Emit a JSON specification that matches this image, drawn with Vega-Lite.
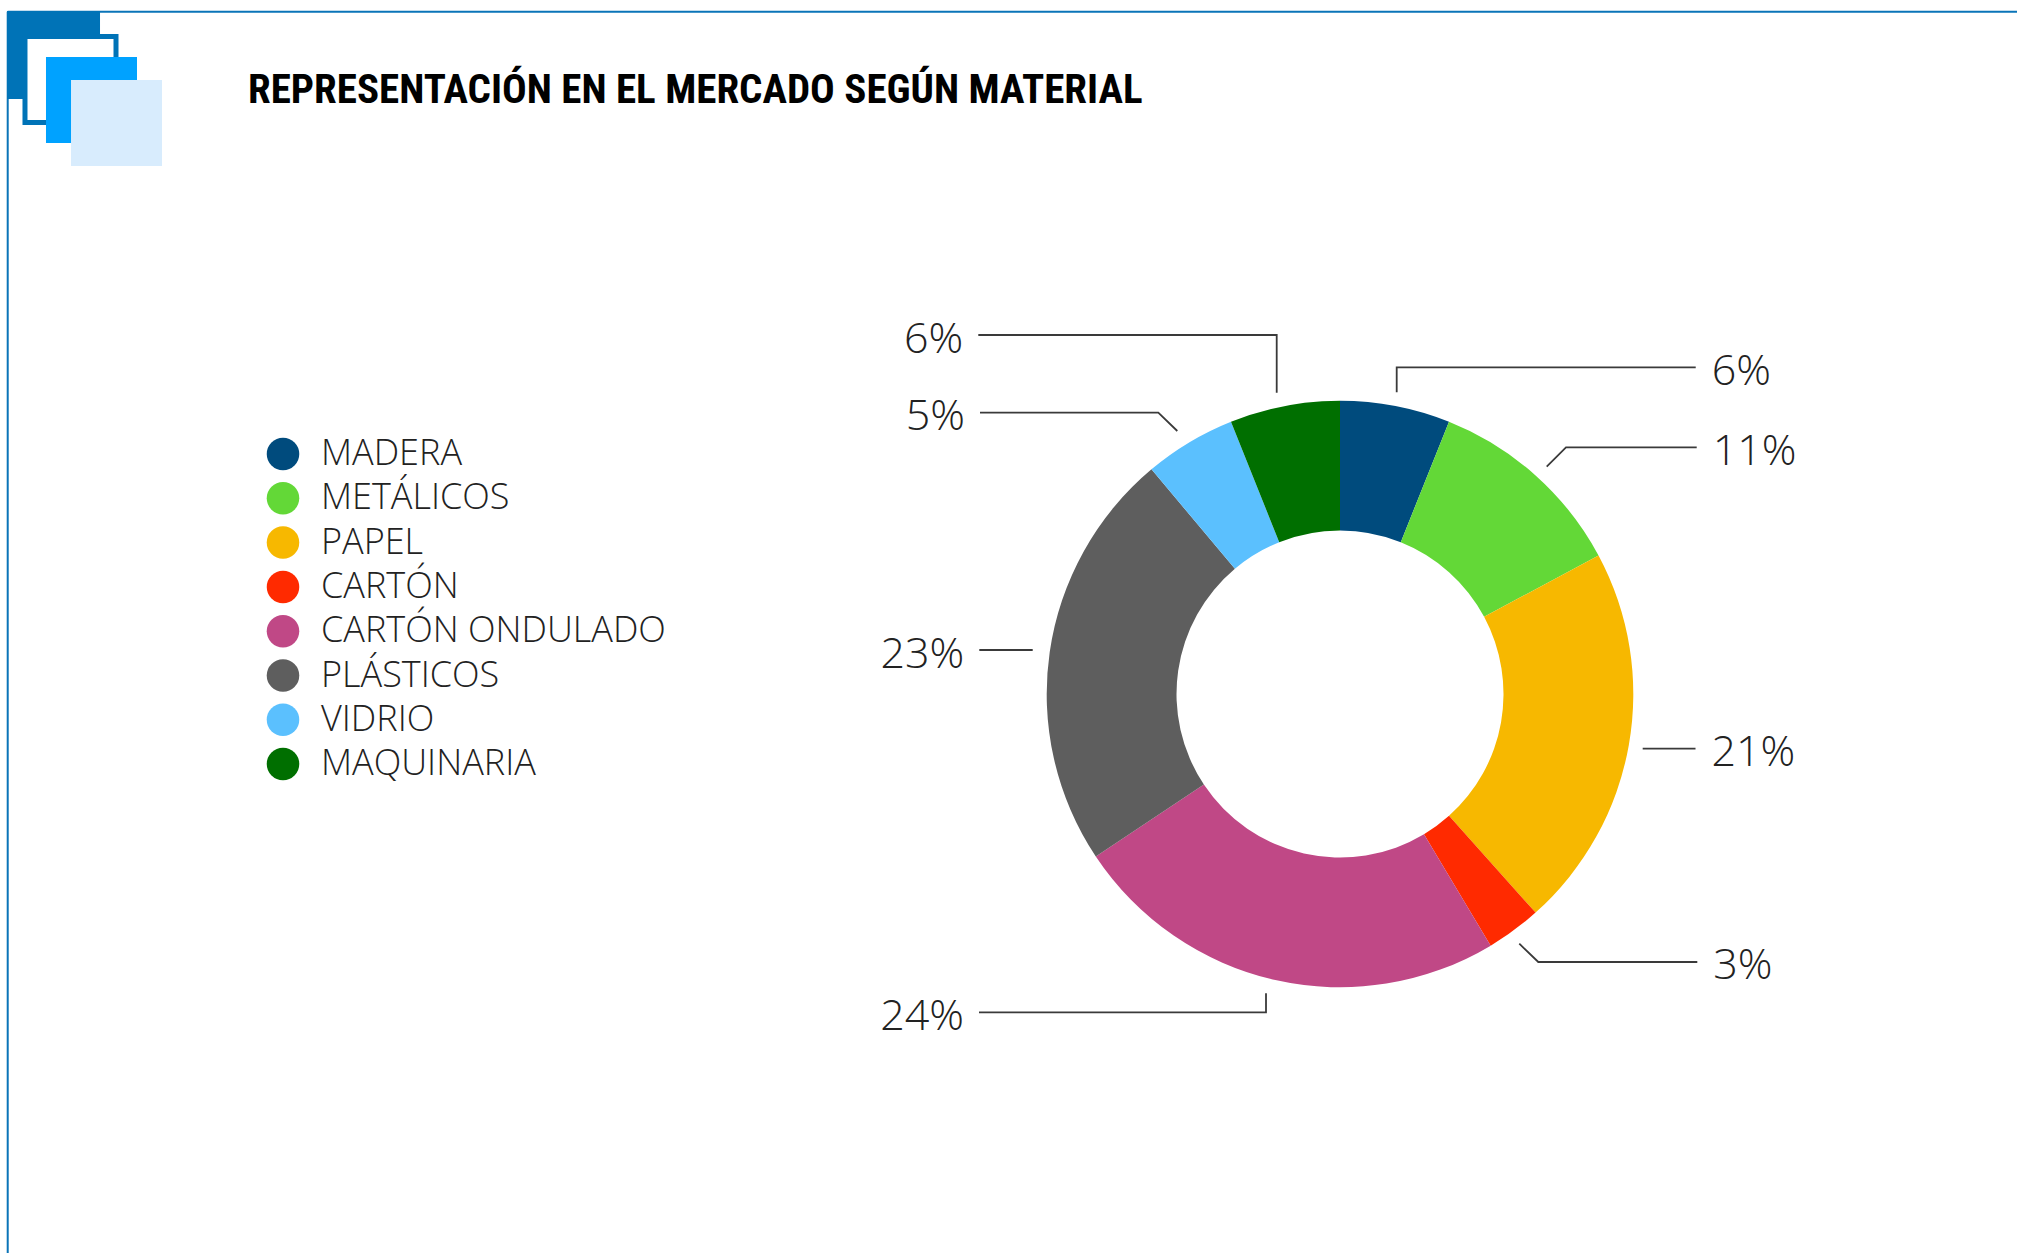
{
  "$schema": "https://vega.github.io/schema/vega-lite/v6.json",
  "width": 2017,
  "height": 1253,
  "autosize": {"type": "none"},
  "padding": 0,
  "background": "#ffffff",
  "title": {
    "text": "REPRESENTACIÓN EN EL MERCADO SEGÚN MATERIAL",
    "orient": "top",
    "anchor": "start",
    "frame": "group",
    "offset": 0,
    "dx": 248,
    "dy": 144,
    "baseline": "alphabetic",
    "font": "Roboto Condensed, Liberation Sans Narrow, DejaVu Sans Condensed, sans-serif",
    "fontWeight": "bold",
    "fontSize": 41,
    "color": "#000000"
  },
  "config": {
    "view": {"stroke": null},
    "legend": {
      "orient": "none",
      "legendX": 265,
      "legendY": 436,
      "padding": 0,
      "symbolType": "circle",
      "symbolSize": 1058,
      "symbolStrokeWidth": 0,
      "labelFont": "Open Sans",
      "labelFontWeight": 300,
      "labelFontSize": 36,
      "labelColor": "#222222",
      "labelOffset": 20,
      "labelLimit": 0,
      "rowPadding": 8.3
    }
  },
  "datasets": {
    "shares": [
      {"idx": 1, "material": "MADERA", "pct": 6},
      {"idx": 2, "material": "METÁLICOS", "pct": 11},
      {"idx": 3, "material": "PAPEL", "pct": 21},
      {"idx": 4, "material": "CARTÓN", "pct": 3},
      {"idx": 5, "material": "CARTÓN ONDULADO", "pct": 24},
      {"idx": 6, "material": "PLÁSTICOS", "pct": 23},
      {"idx": 7, "material": "VIDRIO", "pct": 5},
      {"idx": 8, "material": "MAQUINARIA", "pct": 6}
    ],
    "leaders": [
      {"material": "MAQUINARIA", "label": "6%", "side": "left", "seq": 0, "x": -123.32, "y": 122.40},
      {"material": "MAQUINARIA", "label": "6%", "side": "left", "seq": 1, "x": -21.58, "y": 122.40},
      {"material": "MAQUINARIA", "label": "6%", "side": "left", "seq": 2, "x": -21.58, "y": 102.73},
      {"material": "VIDRIO", "label": "5%", "side": "left", "seq": 0, "x": -122.74, "y": 95.91},
      {"material": "VIDRIO", "label": "5%", "side": "left", "seq": 1, "x": -61.95, "y": 95.91},
      {"material": "VIDRIO", "label": "5%", "side": "left", "seq": 2, "x": -55.47, "y": 89.67},
      {"material": "PLÁSTICOS", "label": "23%", "side": "left", "seq": 0, "x": -122.98, "y": 15.00},
      {"material": "PLÁSTICOS", "label": "23%", "side": "left", "seq": 1, "x": -104.77, "y": 15.00},
      {"material": "CARTÓN ONDULADO", "label": "24%", "side": "left", "seq": 0, "x": -123.08, "y": -108.52},
      {"material": "CARTÓN ONDULADO", "label": "24%", "side": "left", "seq": 1, "x": -25.23, "y": -108.52},
      {"material": "CARTÓN ONDULADO", "label": "24%", "side": "left", "seq": 2, "x": -25.23, "y": -102.05},
      {"material": "MADERA", "label": "6%", "side": "right", "seq": 0, "x": 121.28, "y": 111.39},
      {"material": "MADERA", "label": "6%", "side": "right", "seq": 1, "x": 19.33, "y": 111.39},
      {"material": "MADERA", "label": "6%", "side": "right", "seq": 2, "x": 19.33, "y": 102.86},
      {"material": "METÁLICOS", "label": "11%", "side": "right", "seq": 0, "x": 121.62, "y": 84.11},
      {"material": "METÁLICOS", "label": "11%", "side": "right", "seq": 1, "x": 77.05, "y": 84.11},
      {"material": "METÁLICOS", "label": "11%", "side": "right", "seq": 2, "x": 70.47, "y": 77.50},
      {"material": "PAPEL", "label": "21%", "side": "right", "seq": 0, "x": 121.21, "y": -18.65},
      {"material": "PAPEL", "label": "21%", "side": "right", "seq": 1, "x": 103.20, "y": -18.65},
      {"material": "CARTÓN", "label": "3%", "side": "right", "seq": 0, "x": 121.82, "y": -91.37},
      {"material": "CARTÓN", "label": "3%", "side": "right", "seq": 1, "x": 67.61, "y": -91.37},
      {"material": "CARTÓN", "label": "3%", "side": "right", "seq": 2, "x": 61.13, "y": -85.13}
    ],
    "decor": [
      {"part": "dark", "x": -454.48, "x2": -422.77, "y": 232.87, "y2": 202.86},
      {"part": "outline", "x": -448.35, "x2": -417.32, "y": 224.17, "y2": 194.85},
      {"part": "bright", "x": -441.19, "x2": -410.16, "y": 217.18, "y2": 187.86},
      {"part": "light", "x": -432.66, "x2": -401.64, "y": 209.34, "y2": 180.02}
    ],
    "frame": [
      {"x": -454.24, "x2": 231, "y": 232.63, "y2": 232.63},
      {"x": -454.24, "x2": -454.24, "y": 232.63, "y2": -191}
    ]
  },
  "layer": [
    {
      "data": {"name": "frame"},
      "mark": {"type": "rule", "color": "#0a74b8", "strokeWidth": 2},
      "encoding": {
        "x": {"field": "x", "type": "quantitative", "scale": {"domain": [-456.87, 230.82], "nice": false, "zero": false}, "axis": null},
        "x2": {"field": "x2"},
        "y": {"field": "y", "type": "quantitative", "scale": {"domain": [-190.59, 236.62], "nice": false, "zero": false}, "axis": null},
        "y2": {"field": "y2"}
      }
    },
    {
      "data": {"name": "decor"},
      "transform": [{"filter": "datum.part === 'dark'"}],
      "mark": {"type": "rect", "fill": "#0073b7"},
      "encoding": {
        "x": {"field": "x", "type": "quantitative"},
        "x2": {"field": "x2"},
        "y": {"field": "y", "type": "quantitative"},
        "y2": {"field": "y2"}
      }
    },
    {
      "data": {"name": "decor"},
      "transform": [{"filter": "datum.part === 'outline'"}],
      "mark": {"type": "rect", "fill": "#ffffff", "stroke": "#0073b7", "strokeWidth": 5},
      "encoding": {
        "x": {"field": "x", "type": "quantitative"},
        "x2": {"field": "x2"},
        "y": {"field": "y", "type": "quantitative"},
        "y2": {"field": "y2"}
      }
    },
    {
      "data": {"name": "decor"},
      "transform": [{"filter": "datum.part === 'bright'"}],
      "mark": {"type": "rect", "fill": "#00a2ff"},
      "encoding": {
        "x": {"field": "x", "type": "quantitative"},
        "x2": {"field": "x2"},
        "y": {"field": "y", "type": "quantitative"},
        "y2": {"field": "y2"}
      }
    },
    {
      "data": {"name": "decor"},
      "transform": [{"filter": "datum.part === 'light'"}],
      "mark": {"type": "rect", "fill": "#d8ecfd"},
      "encoding": {
        "x": {"field": "x", "type": "quantitative"},
        "x2": {"field": "x2"},
        "y": {"field": "y", "type": "quantitative"},
        "y2": {"field": "y2"}
      }
    },
    {
      "data": {"name": "shares"},
      "mark": {"type": "arc", "innerRadius": 163.5, "outerRadius": 293.3},
      "encoding": {
        "x": {"datum": 0, "type": "quantitative"},
        "y": {"datum": 0, "type": "quantitative"},
        "theta": {"field": "pct", "type": "quantitative", "stack": true},
        "order": {"field": "idx", "type": "quantitative"},
        "color": {
          "field": "material",
          "type": "nominal",
          "title": null,
          "scale": {
            "domain": ["MADERA", "METÁLICOS", "PAPEL", "CARTÓN", "CARTÓN ONDULADO", "PLÁSTICOS", "VIDRIO", "MAQUINARIA"],
            "range": ["#004b7d", "#63d837", "#f7b800", "#ff2a00", "#c04886", "#5e5e5e", "#5bc0fe", "#006f00"]
          }
        }
      }
    },
    {
      "data": {"name": "leaders"},
      "mark": {"type": "line", "stroke": "#3a3a3a", "strokeWidth": 1.8, "interpolate": "linear"},
      "encoding": {
        "x": {"field": "x", "type": "quantitative"},
        "y": {"field": "y", "type": "quantitative"},
        "detail": {"field": "material", "type": "nominal"},
        "order": {"field": "seq", "type": "quantitative"}
      }
    },
    {
      "data": {"name": "leaders"},
      "transform": [{"filter": "datum.seq === 0 && datum.side === 'left'"}],
      "mark": {"type": "text", "align": "right", "baseline": "alphabetic", "dx": -15, "dy": 17.5, "font": "Open Sans", "fontWeight": 300, "fontSize": 43, "fill": "#222222"},
      "encoding": {
        "x": {"field": "x", "type": "quantitative"},
        "y": {"field": "y", "type": "quantitative"},
        "text": {"field": "label"}
      }
    },
    {
      "data": {"name": "leaders"},
      "transform": [{"filter": "datum.seq === 0 && datum.side === 'right'"}],
      "mark": {"type": "text", "align": "left", "baseline": "alphabetic", "dx": 16, "dy": 17.5, "font": "Open Sans", "fontWeight": 300, "fontSize": 43, "fill": "#222222"},
      "encoding": {
        "x": {"field": "x", "type": "quantitative"},
        "y": {"field": "y", "type": "quantitative"},
        "text": {"field": "label"}
      }
    }
  ]
}
